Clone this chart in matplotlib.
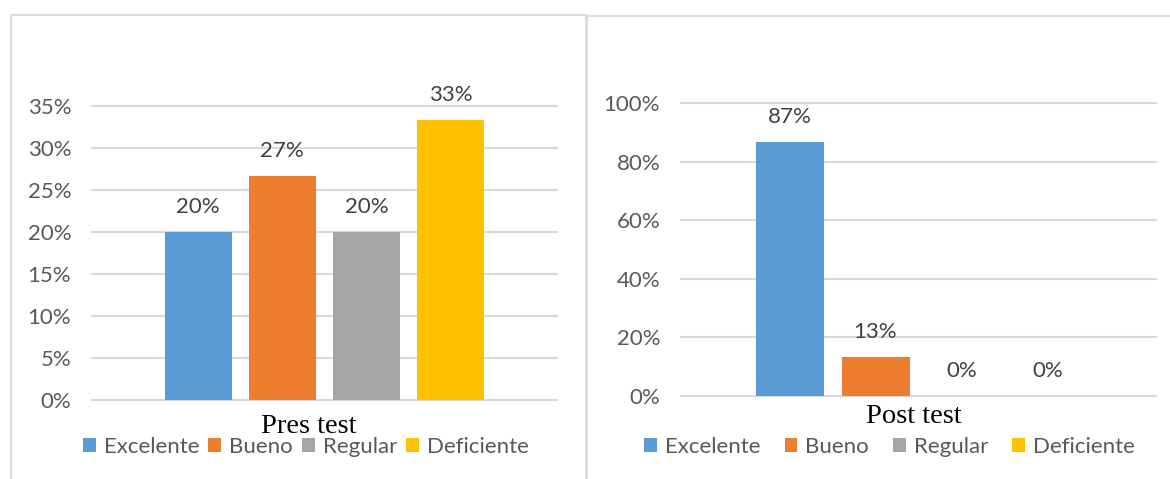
import matplotlib
matplotlib.use("Agg")
import matplotlib.pyplot as plt
from matplotlib.patches import Rectangle
from matplotlib.ticker import PercentFormatter, MultipleLocator

# Data
categories = ["Excelente", "Bueno", "Regular", "Deficiente"]
pre_values = [20.0, 26.7, 20.0, 33.3]
post_values = [86.7, 13.3, 0.0, 0.0]
colors = ["#5B9BD5", "#ED7D31", "#A5A5A5", "#FFC000"]
pre_title = "Pres test"
post_title = "Post test"

W, H = 1170, 479
SANS = ["Lato", "DejaVu Sans"]
FS = 16
TICK_COLOR = "#595959"
LABEL_COLOR = "#404040"
GRID_COLOR = "#D9D9D9"

fig = plt.figure(figsize=(W / 100, H / 100), dpi=100)
fig.patch.set_facecolor("white")


def px_rect(x0, y0, x1, y1):
    """Convert a pixel box (top-left origin) into a figure-fraction rect."""
    return [x0 / W, 1 - y1 / H, (x1 - x0) / W, (y1 - y0) / H]


def panel(rect, values, ymax, ystep, spacing, width, half_span,
          title, title_xy, legend_xy, colspacing):
    ax = fig.add_axes(px_rect(*rect))
    for i, (cat, val, col) in enumerate(zip(categories, values, colors)):
        x = (i - 1.5) * spacing
        ax.bar([x], [val], width=width, color=col, label=cat, zorder=3)
        ax.annotate(f"{val:.0f}%", xy=(x, val), xytext=(0, 18),
                    textcoords="offset points", ha="center", va="center",
                    fontsize=FS, family=SANS, color=LABEL_COLOR)
    ax.set_xlim(-half_span, half_span)
    ax.set_ylim(0, ymax)
    ax.yaxis.set_major_locator(MultipleLocator(ystep))
    ax.yaxis.set_major_formatter(PercentFormatter(decimals=0))
    ax.set_xticks([])
    ax.tick_params(axis="y", length=0, pad=15, labelsize=FS,
                   labelcolor=TICK_COLOR)
    for lab in ax.get_yticklabels():
        lab.set_family(SANS)
    for s in ax.spines.values():
        s.set_visible(False)
    ax.set_axisbelow(True)
    ax.yaxis.grid(True, color=GRID_COLOR, lw=1.5)
    for t in ax.yaxis.get_major_ticks():
        t.gridline.set_clip_on(False)

    fig.text(title_xy[0] / W, 1 - title_xy[1] / H, title, ha="center",
             va="baseline", family="Liberation Serif", fontsize=20.5,
             color="black")

    leg = ax.legend(loc="center", ncol=4, frameon=False,
                    bbox_to_anchor=(legend_xy[0] / W, 1 - legend_xy[1] / H),
                    bbox_transform=fig.transFigure,
                    prop={"family": SANS, "size": FS},
                    handlelength=0.58, handleheight=0.58,
                    handletextpad=0.36, columnspacing=colspacing,
                    borderpad=0, borderaxespad=0)
    for txt in leg.get_texts():
        txt.set_color(TICK_COLOR)
    return ax


panel((92, 106, 557, 400), pre_values, 35, 5, 84.3, 67, 232.5,
      pre_title, (308.5, 433), (306, 447), 0.4)
panel((681, 103, 1156, 396), post_values, 100, 20, 86, 68, 237.5,
      post_title, (913.5, 423), (889.5, 447), 1.07)

# Panel frames
fig.patches.append(Rectangle((11 / W, -0.1), (586 - 11) / W, 1.1 - 15 / H,
                             transform=fig.transFigure, fill=False,
                             ec=GRID_COLOR, lw=1.3))
fig.patches.append(Rectangle((587 / W, -0.1), (1180 - 587) / W, 1.1 - 16 / H,
                             transform=fig.transFigure, fill=False,
                             ec=GRID_COLOR, lw=1.3))

fig.savefig("out.png", dpi=100, facecolor="white")
